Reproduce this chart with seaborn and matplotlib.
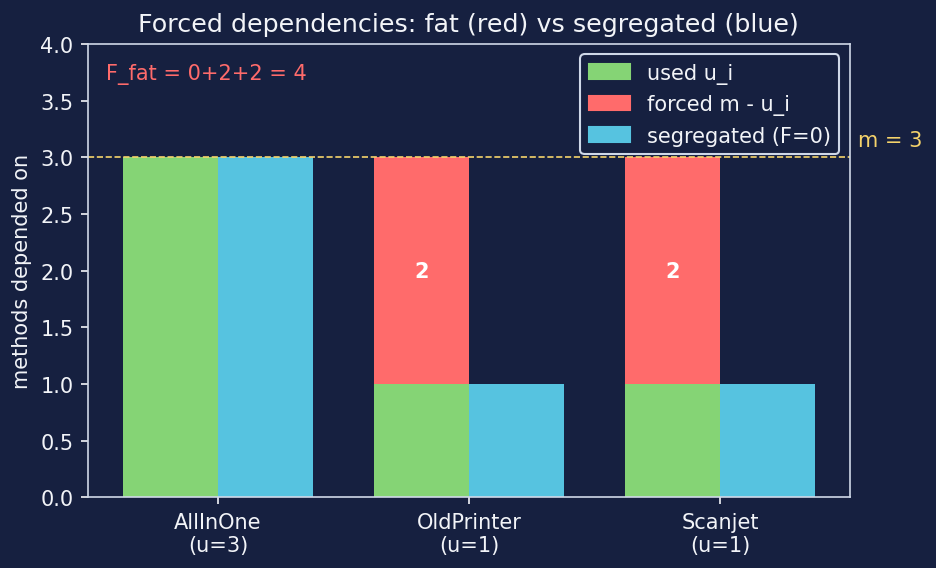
import pandas as pd
import matplotlib.pyplot as plt
import seaborn as sns
from matplotlib.patches import Patch

classes = ['AllInOne', 'OldPrinter', 'Scanjet']
used = [3, 1, 1]
m_total = 3
forced = [m_total - u for u in used]
segregated = [3, 1, 1]

bg = '#162040'
fg = '#f2f4f8'
green = '#85d475'
red = '#ff6b6b'
blue = '#56c3e0'
yellow = '#f5d36b'
spine = '#cfd8e8'

sns.set_theme(style='dark')
plt.rcParams.update({
    'figure.facecolor': bg, 'axes.facecolor': bg, 'axes.edgecolor': spine,
    'text.color': fg, 'axes.labelcolor': fg, 'xtick.color': fg, 'ytick.color': fg,
})
plt.rcParams['font.family'] = ['DejaVu Sans']

labels = [f'{c}\n(u={u})' for c, u in zip(classes, used)]
df = pd.DataFrame({
    'cls': labels * 2,
    'kind': ['used u_i'] * 3 + ['segregated (F=0)'] * 3,
    'value': used + segregated,
})

fig, ax = plt.subplots(figsize=(6.24, 3.793), dpi=150)
fig.subplots_adjust(left=0.094, right=0.908, top=0.921, bottom=0.124)

sns.barplot(data=df, x='cls', y='value', hue='kind',
            hue_order=['used u_i', 'segregated (F=0)'],
            palette=[green, blue], width=0.76, gap=0, saturation=1,
            edgecolor='none', ax=ax)

w = 0.38
xs = [i - w / 2 for i in range(len(classes))]
ax.bar(xs, forced, bottom=used, width=w, color=red, edgecolor='none')
for x, f, u in zip(xs, forced, used):
    if f > 0:
        ax.text(x, u + f / 2, str(f), ha='center', va='center',
                color='white', fontweight='bold', fontsize=10)

ax.axhline(m_total, color=yellow, linestyle='--', linewidth=0.8)
ax.text(1.01, m_total + 0.15, f'm = {m_total}', transform=ax.get_yaxis_transform(),
        color=yellow, fontsize=10, va='center', ha='left')

ax.text(0.024, 0.934, 'F_fat = ' + '+'.join(str(f) for f in forced) + f' = {sum(forced)}',
        transform=ax.transAxes, color=red, fontsize=10, va='center')

ax.set_ylim(0, 4)
ax.set_yticks([0, 0.5, 1, 1.5, 2, 2.5, 3, 3.5, 4])
ax.set_xlabel('')
ax.set_ylabel('methods depended on', fontsize=10)
ax.set_title('Forced dependencies: fat (red) vs segregated (blue)', fontsize=12.2, color=fg)
ax.tick_params(axis='both', labelsize=10, length=3.5, width=0.8, bottom=True, left=True)
for s in ax.spines.values():
    s.set_visible(True)
    s.set_color(spine)
    s.set_linewidth(0.8)

handles = [Patch(color=green, label='used u_i'),
           Patch(color=red, label='forced m - u_i'),
           Patch(color=blue, label='segregated (F=0)')]
leg = ax.legend(handles=handles, loc='upper right', fontsize=10,
                facecolor=bg, edgecolor=spine, framealpha=1, labelcolor=fg)

fig.savefig('out.png', dpi=150, facecolor=bg)
